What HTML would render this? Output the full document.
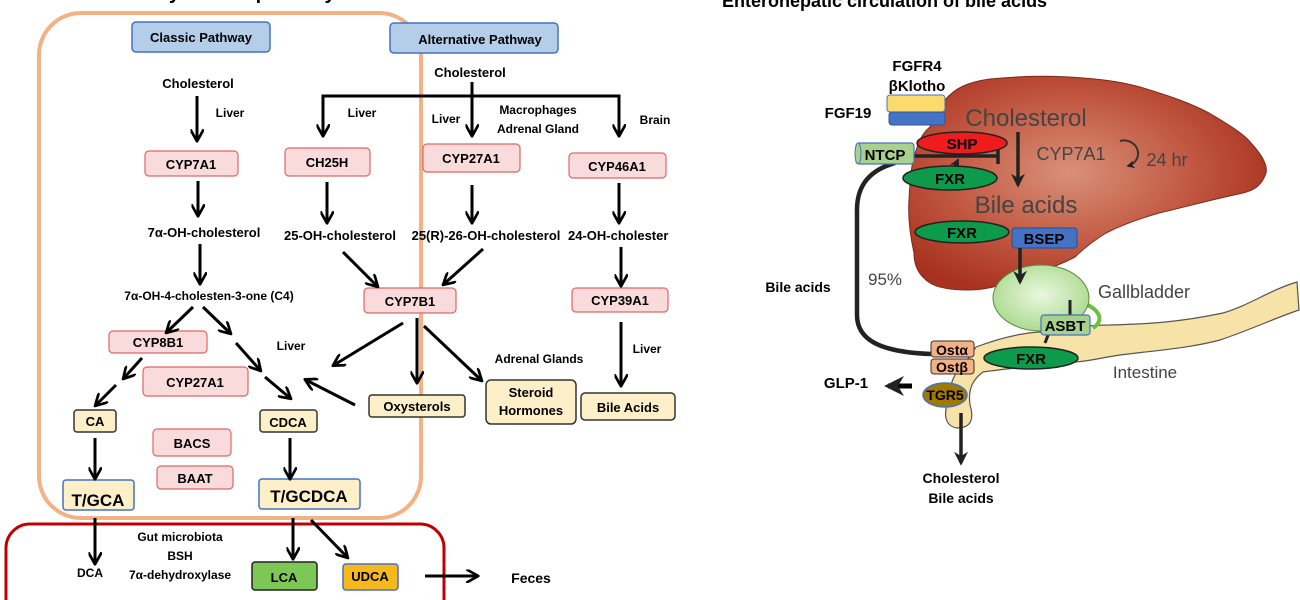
<!DOCTYPE html>
<html><head><meta charset="utf-8"><style>
html,body{margin:0;padding:0;background:#fff;width:1300px;height:600px;overflow:hidden}
svg{display:block}
text{font-family:"Liberation Sans",sans-serif}
.b{font-weight:bold}
</style></head><body>
<svg width="1300" height="600" viewBox="0 0 1300 600" xmlns="http://www.w3.org/2000/svg">
<defs>
<marker id="ah" viewBox="0 0 10 10" refX="8" refY="5" markerWidth="4.5" markerHeight="4.5" orient="auto-start-reverse"><path d="M0,0 L9,5 L0,10" fill="none" stroke="#000" stroke-width="2"/></marker>
<marker id="af" viewBox="0 0 10 10" refX="8" refY="5" markerWidth="4" markerHeight="4" orient="auto"><path d="M0,0 L10,5 L0,10 L3,5z" fill="#222"/></marker>
<radialGradient id="lv" cx="0.45" cy="0.45" r="0.6"><stop offset="0" stop-color="#d99178"/><stop offset="0.6" stop-color="#c0553f"/><stop offset="1" stop-color="#a8321f"/></radialGradient>
<radialGradient id="gb" cx="0.5" cy="0.45" r="0.6"><stop offset="0" stop-color="#eaf7df"/><stop offset="1" stop-color="#a7d88a"/></radialGradient>
</defs>

<!-- LEFT PANEL -->
<text x="40" y="-1" class="b" font-size="20">Bile acid biosynthesis pathway</text>
<rect x="39" y="13" width="382" height="505" rx="42" fill="none" stroke="#f4b183" stroke-width="4"/>
<rect x="6" y="524" width="438" height="100" rx="24" fill="none" stroke="#c00000" stroke-width="3"/>

<g font-size="13" class="b" text-anchor="middle">
<rect x="132" y="22" width="138" height="30" rx="4" fill="#b4cde9" stroke="#4472c4" stroke-width="1.5"/>
<text x="201" y="42">Classic Pathway</text>
<rect x="390" y="23" width="168" height="30" rx="4" fill="#b4cde9" stroke="#4472c4" stroke-width="1.5"/>
<text x="480" y="44">Alternative Pathway</text>
</g>

<g stroke="#e06666" stroke-width="1.2" fill="#fadbdb">
<rect x="145" y="151" width="93" height="25" rx="4"/>
<rect x="285" y="148" width="85" height="28" rx="4"/>
<rect x="423" y="144" width="97" height="28" rx="4"/>
<rect x="569" y="153" width="97" height="25" rx="4"/>
<rect x="364" y="288" width="92" height="25" rx="4"/>
<rect x="572" y="288" width="96" height="24" rx="4"/>
<rect x="109" y="331" width="98" height="22" rx="4"/>
<rect x="143" y="367" width="105" height="29" rx="4"/>
<rect x="153" y="429" width="78" height="27" rx="4"/>
<rect x="157" y="466" width="76" height="23" rx="4"/>
</g>
<g stroke="#333" stroke-width="1.5" fill="#fdf0c8">
<rect x="74" y="410" width="42" height="22" rx="3"/>
<rect x="260" y="410" width="57" height="22" rx="3"/>
<rect x="369" y="395" width="96" height="22" rx="3"/>
<rect x="486" y="380" width="90" height="44" rx="5"/>
<rect x="581" y="393" width="94" height="27" rx="4"/>
</g>
<g stroke="#4472c4" stroke-width="1.5" fill="#fdf0c8">
<rect x="63" y="480" width="71" height="30" rx="3"/>
<rect x="259" y="479" width="101" height="30" rx="3"/>
</g>
<rect x="252" y="562" width="65" height="28" rx="3" fill="#7cc756" stroke="#222" stroke-width="1.5"/>
<rect x="343" y="564" width="55" height="26" rx="3" fill="#f6b81a" stroke="#4472c4" stroke-width="1.5"/>

<g font-size="13" class="b" text-anchor="middle">
<text x="191" y="169">CYP7A1</text>
<text x="327" y="167">CH25H</text>
<text x="471" y="163">CYP27A1</text>
<text x="617" y="171">CYP46A1</text>
<text x="410" y="306">CYP7B1</text>
<text x="620" y="305">CYP39A1</text>
<text x="158" y="347">CYP8B1</text>
<text x="195" y="387">CYP27A1</text>
<text x="192" y="448">BACS</text>
<text x="195" y="483">BAAT</text>
<text x="95" y="426">CA</text>
<text x="288" y="427">CDCA</text>
<text x="417" y="411">Oxysterols</text>
<text x="531" y="397">Steroid</text>
<text x="531" y="415">Hormones</text>
<text x="628" y="412">Bile Acids</text>
<text x="98" y="506" font-size="17">T/GCA</text>
<text x="309" y="502" font-size="17">T/GCDCA</text>
<text x="284" y="582">LCA</text>
<text x="370" y="581">UDCA</text>
<text x="198" y="88">Cholesterol</text>
<text x="230" y="117" font-size="12">Liver</text>
<text x="204" y="237">7α-OH-cholesterol</text>
<text x="209" y="300" font-size="12">7α-OH-4-cholesten-3-one (C4)</text>
<text x="470" y="77">Cholesterol</text>
<text x="362" y="117" font-size="12">Liver</text>
<text x="446" y="123" font-size="12">Liver</text>
<text x="538" y="114" font-size="12">Macrophages</text>
<text x="538" y="133" font-size="12">Adrenal Gland</text>
<text x="655" y="124" font-size="12">Brain</text>
<text x="340" y="240">25-OH-cholesterol</text>
<text x="486" y="240">25(R)-26-OH-cholesterol</text>
<text x="568" y="240" text-anchor="start">24-OH-cholester</text>
<text x="647" y="353" font-size="12">Liver</text>
<text x="291" y="350" font-size="12">Liver</text>
<text x="539" y="363" font-size="12">Adrenal Glands</text>
<text x="90" y="577" font-size="12">DCA</text>
<text x="180" y="541" font-size="12">Gut microbiota</text>
<text x="180" y="560" font-size="12">BSH</text>
<text x="180" y="579" font-size="12">7α-dehydroxylase</text>
<text x="531" y="583" font-size="14">Feces</text>
</g>

<g stroke="#000" stroke-width="3" fill="none" marker-end="url(#ah)">
<line x1="197" y1="96" x2="197" y2="140"/>
<line x1="198" y1="181" x2="198" y2="215"/>
<line x1="200" y1="244" x2="200" y2="283"/>
<line x1="323" y1="96" x2="323" y2="135"/>
<line x1="472" y1="82" x2="472" y2="135"/>
<line x1="619" y1="96" x2="619" y2="135"/>
<line x1="327" y1="182" x2="327" y2="222"/>
<line x1="472" y1="185" x2="472" y2="222"/>
<line x1="619" y1="183" x2="619" y2="222"/>
<line x1="343" y1="252" x2="377" y2="286"/>
<line x1="483" y1="249" x2="444" y2="284"/>
<line x1="621" y1="247" x2="621" y2="285"/>
<line x1="621" y1="322" x2="621" y2="385"/>
<line x1="193" y1="307" x2="167" y2="332"/>
<line x1="203" y1="307" x2="230" y2="333"/>
<line x1="236" y1="343" x2="260" y2="370"/>
<line x1="265" y1="377" x2="290" y2="398"/>
<line x1="142" y1="358" x2="124" y2="378"/>
<line x1="116" y1="385" x2="96" y2="405"/>
<line x1="403" y1="323" x2="334" y2="365"/>
<line x1="417" y1="318" x2="417" y2="382"/>
<line x1="424" y1="326" x2="481" y2="380"/>
<line x1="355" y1="405" x2="306" y2="380"/>
<line x1="95" y1="438" x2="95" y2="478"/>
<line x1="290" y1="438" x2="290" y2="478"/>
<line x1="95" y1="518" x2="95" y2="563"/>
<line x1="293" y1="518" x2="293" y2="558"/>
<line x1="311" y1="520" x2="347" y2="557"/>
<line x1="425" y1="576" x2="477" y2="576"/>
</g>
<path d="M323,98 V96 H619 V98" stroke="#000" stroke-width="3" fill="none"/>

<!-- RIGHT PANEL -->
<text x="722" y="7" class="b" font-size="18">Enterohepatic circulation of bile acids</text>

<path d="M976,347 C1000,338 1020,333 1040,332 C1070,328 1090,325 1110,325 C1150,324 1180,322 1223,313 C1250,305 1270,290 1297,282 L1299,310 C1275,318 1250,330 1220,340 C1190,348 1160,350 1120,355 C1100,358 1085,362 1073,362 C1040,366 1010,368 983,372 C972,380 968,390 970,405 C974,418 972,428 957,428 C945,426 944,415 947,405 C950,390 950,375 967,360 Z" fill="#f7e3a8" stroke="#555" stroke-width="1.2"/>
<g stroke="#6cbf3f" stroke-width="4" fill="none">
<path d="M1022,270 L1040,245 M1030,268 L1050,255"/>
<path d="M1070,300 C1100,305 1106,320 1093,328"/>
</g>
<path d="M945,100 C955,88 968,82 990,79 C1020,76 1050,75 1083,78 C1110,80 1125,83 1140,87 C1170,96 1190,103 1209,113 C1230,125 1245,135 1251,143 C1262,155 1268,165 1266,173 C1262,185 1255,190 1243,193 C1210,200 1185,207 1159,213 C1135,220 1120,226 1106,233 C1090,243 1082,250 1075,257 C1060,265 1045,270 1033,273 C1010,283 990,290 968,290 C950,290 938,288 930,283 C918,275 914,265 914,253 C910,235 908,215 909,200 C910,180 911,168 914,157 C918,143 922,133 930,127 C935,115 940,106 945,100 Z" fill="url(#lv)" stroke="#7a2a1a" stroke-width="1"/>
<ellipse cx="1041" cy="298" rx="48" ry="33" fill="url(#gb)" stroke="#5a8a3a" stroke-width="1"/>
<line x1="1070" y1="300" x2="1070" y2="320" stroke="#222" stroke-width="3"/>

<path d="M895,163 C870,170 857,185 857,210 L857,315 C857,340 880,352 931,354" stroke="#222" stroke-width="4.5" fill="none"/>
<path d="M914,156 L998,156 M998,148 L998,164" stroke="#222" stroke-width="3.5" fill="none"/>
<path d="M953,170 L958,160" stroke="#222" stroke-width="2.5" marker-end="url(#af)"/>
<path d="M1050,330 L1045,343" stroke="#222" stroke-width="3"/>

<rect x="887" y="95" width="58" height="17" rx="3" fill="#fbdb6e" stroke="#4472c4" stroke-width="1"/>
<rect x="889" y="112" width="56" height="13" rx="3" fill="#4472c4" stroke="#2f5597" stroke-width="1"/>
<rect x="856" y="143" width="58" height="21" rx="3" fill="#a9d18e" stroke="#4472c4" stroke-width="1.2"/>
<ellipse cx="858" cy="153.5" rx="3" ry="10.5" fill="#a9d18e" stroke="#4472c4"/>
<rect x="1012" y="228" width="65" height="20" rx="3" fill="#4472c4" stroke="#2f5597" stroke-width="1.2"/>
<rect x="1041" y="315" width="49" height="20" rx="3" fill="#a9d18e" stroke="#4472c4" stroke-width="1.2"/>
<rect x="931" y="341" width="43" height="16" rx="3" fill="#f4b183" stroke="#333" stroke-width="1"/>
<rect x="931" y="359" width="43" height="15" rx="3" fill="#f4b183" stroke="#333" stroke-width="1"/>
<ellipse cx="962" cy="143" rx="45" ry="11" fill="#ee1c1c" stroke="#222" stroke-width="1.5"/>
<ellipse cx="950" cy="178" rx="47" ry="12" fill="#0d9a4a" stroke="#222" stroke-width="1.5"/>
<ellipse cx="962" cy="232" rx="47" ry="11" fill="#0d9a4a" stroke="#222" stroke-width="1.5"/>
<ellipse cx="1031" cy="358" rx="47" ry="11" fill="#0d9a4a" stroke="#222" stroke-width="1.5"/>
<ellipse cx="945" cy="395" rx="22" ry="12" fill="#a07a00" stroke="#4472c4" stroke-width="1.5"/>

<g class="b" font-size="15" text-anchor="middle">
<text x="885" y="160">NTCP</text>
<text x="962" y="149">SHP</text>
<text x="950" y="184">FXR</text>
<text x="962" y="238">FXR</text>
<text x="1044" y="244">BSEP</text>
<text x="1065" y="331">ASBT</text>
<text x="1031" y="364">FXR</text>
<text x="952" y="355" font-size="14">Ostα</text>
<text x="952" y="372" font-size="14">Ostβ</text>
<text x="945" y="400" font-size="14">TGR5</text>
<text x="917" y="71">FGFR4</text>
<text x="917" y="91">βKlotho</text>
<text x="848" y="118">FGF19</text>
<text x="798" y="292" font-size="14">Bile acids</text>
<text x="846" y="388">GLP-1</text>
<text x="961" y="483" font-size="14">Cholesterol</text>
<text x="961" y="503" font-size="14">Bile acids</text>
</g>
<g fill="#444" text-anchor="middle">
<text x="1026" y="126" font-size="24">Cholesterol</text>
<text x="1071" y="160" font-size="18">CYP7A1</text>
<text x="1167" y="166" font-size="18">24 hr</text>
<text x="1026" y="213" font-size="24">Bile acids</text>
<text x="885" y="285" font-size="17">95%</text>
<text x="1144" y="298" font-size="18">Gallbladder</text>
<text x="1145" y="378" font-size="17">Intestine</text>
</g>
<path d="M1120,141 A14,13 0 1 1 1128,166" stroke="#333" stroke-width="2" fill="none" marker-end="url(#af)"/>
<g stroke="#222" stroke-width="3.5" fill="none" marker-end="url(#af)">
<line x1="1018" y1="132" x2="1018" y2="185"/>
<line x1="1020" y1="248" x2="1020" y2="282"/>
<line x1="961" y1="413" x2="961" y2="463"/>
</g>
<line x1="912" y1="386" x2="888" y2="386" stroke="#000" stroke-width="5" marker-end="url(#af)"/>
</svg>
</body></html>
